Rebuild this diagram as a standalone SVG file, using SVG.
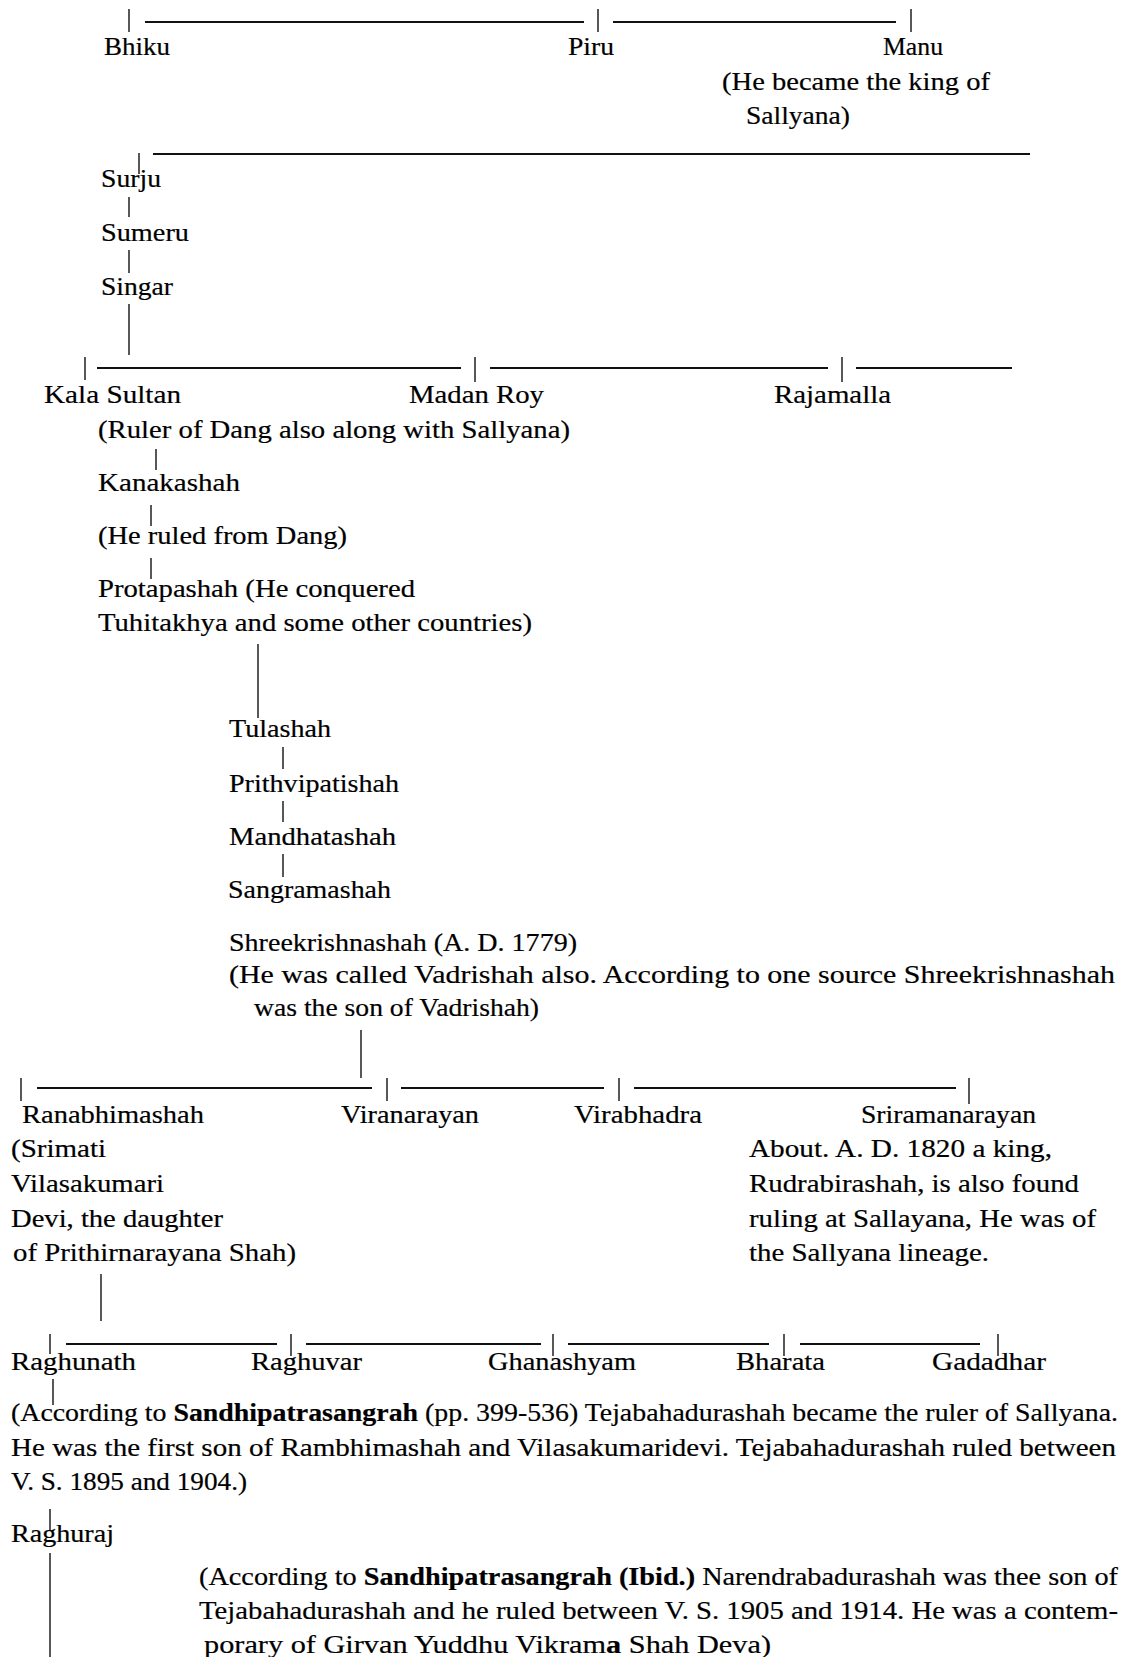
<svg xmlns="http://www.w3.org/2000/svg" width="1122" height="1657" viewBox="0 0 1122 1657">
<style>
text{font-family:"Liberation Serif","Times New Roman",serif;font-size:26px;fill:#000;stroke:#000;stroke-width:0.2}
.c line{stroke:#111;stroke-width:1.4}
.c .h{stroke-width:2}
.b{font-weight:bold}
</style>
<rect width="1122" height="1657" fill="#fff"/>
<g class="c" id="connectors">
<line x1="129" y1="9" x2="129" y2="32"/><line class="h" x1="145" y1="22" x2="584" y2="22"/><line x1="598" y1="9" x2="598" y2="32"/><line class="h" x1="613" y1="22" x2="896" y2="22"/><line x1="911" y1="9" x2="911" y2="32"/>
<line x1="139" y1="153" x2="139" y2="174"/><line class="h" x1="153" y1="154" x2="1030" y2="154"/>
<line x1="129" y1="197" x2="129" y2="217"/><line x1="129" y1="250" x2="129" y2="273"/><line x1="129" y1="304" x2="129" y2="355"/>
<line x1="85" y1="357" x2="85" y2="380"/><line class="h" x1="97" y1="368" x2="461" y2="368"/><line x1="475" y1="357" x2="475" y2="382"/><line class="h" x1="490" y1="368" x2="828" y2="368"/><line x1="842" y1="357" x2="842" y2="382"/><line class="h" x1="856" y1="368" x2="1012" y2="368"/>
<line x1="156" y1="449" x2="156" y2="470"/><line x1="151" y1="505" x2="151" y2="526"/><line x1="151" y1="558" x2="151" y2="579"/>
<line x1="258" y1="644" x2="258" y2="718"/><line x1="283" y1="747" x2="283" y2="769"/><line x1="283" y1="801" x2="283" y2="822"/><line x1="283" y1="854" x2="283" y2="877"/>
<line x1="361" y1="1030" x2="361" y2="1078"/>
<line x1="21" y1="1078" x2="21" y2="1101"/><line class="h" x1="37" y1="1088" x2="372" y2="1088"/><line x1="387" y1="1078" x2="387" y2="1101"/><line class="h" x1="401" y1="1088" x2="604" y2="1088"/><line x1="619" y1="1078" x2="619" y2="1101"/><line class="h" x1="634" y1="1088" x2="956" y2="1088"/><line x1="969" y1="1078" x2="969" y2="1104"/>
<line x1="101" y1="1274" x2="101" y2="1321"/>
<line x1="50" y1="1334" x2="50" y2="1354"/><line class="h" x1="66" y1="1344" x2="277" y2="1344"/><line x1="291" y1="1334" x2="291" y2="1356"/><line class="h" x1="306" y1="1344" x2="541" y2="1344"/><line x1="553" y1="1334" x2="553" y2="1356"/><line class="h" x1="568" y1="1344" x2="769" y2="1344"/><line x1="784" y1="1334" x2="784" y2="1356"/><line class="h" x1="800" y1="1344" x2="980" y2="1344"/><line x1="998" y1="1334" x2="998" y2="1356"/>
<line x1="53" y1="1379" x2="53" y2="1405"/><line x1="50" y1="1509" x2="50" y2="1530"/><line x1="50" y1="1553" x2="50" y2="1657"/>
</g>
<g id="bhiku"><text x="104" y="55" textLength="66" lengthAdjust="spacingAndGlyphs">Bhiku</text></g>
<g id="piru"><text x="568" y="55" textLength="46" lengthAdjust="spacingAndGlyphs">Piru</text></g>
<g id="manu"><text x="883" y="55" textLength="60" lengthAdjust="spacingAndGlyphs">Manu</text>
<text x="722" y="90" textLength="268" lengthAdjust="spacingAndGlyphs">(He became the king of</text>
<text x="746" y="124" textLength="104" lengthAdjust="spacingAndGlyphs">Sallyana)</text></g>
<g id="surju"><text x="101" y="187" textLength="60" lengthAdjust="spacingAndGlyphs">Surju</text></g>
<g id="sumeru"><text x="101" y="241" textLength="88" lengthAdjust="spacingAndGlyphs">Sumeru</text></g>
<g id="singar"><text x="101" y="295" textLength="72" lengthAdjust="spacingAndGlyphs">Singar</text></g>
<g id="kala-sultan"><text x="44" y="403" textLength="137" lengthAdjust="spacingAndGlyphs">Kala Sultan</text>
<text x="98" y="438" textLength="472" lengthAdjust="spacingAndGlyphs">(Ruler of Dang also along with Sallyana)</text></g>
<g id="madan-roy"><text x="409" y="403" textLength="135" lengthAdjust="spacingAndGlyphs">Madan Roy</text></g>
<g id="rajamalla"><text x="774" y="403" textLength="117" lengthAdjust="spacingAndGlyphs">Rajamalla</text></g>
<g id="kanakashah"><text x="98" y="491" textLength="142" lengthAdjust="spacingAndGlyphs">Kanakashah</text></g>
<g id="ruled-dang"><text x="98" y="544" textLength="249" lengthAdjust="spacingAndGlyphs">(He ruled from Dang)</text></g>
<g id="protapashah"><text x="98" y="597" textLength="317" lengthAdjust="spacingAndGlyphs">Protapashah (He conquered</text>
<text x="98" y="631" textLength="434" lengthAdjust="spacingAndGlyphs">Tuhitakhya and some other countries)</text></g>
<g id="tulashah"><text x="229" y="737" textLength="102" lengthAdjust="spacingAndGlyphs">Tulashah</text></g>
<g id="prithvipatishah"><text x="229" y="792" textLength="170" lengthAdjust="spacingAndGlyphs">Prithvipatishah</text></g>
<g id="mandhatashah"><text x="229" y="845" textLength="167" lengthAdjust="spacingAndGlyphs">Mandhatashah</text></g>
<g id="sangramashah"><text x="228" y="898" textLength="163" lengthAdjust="spacingAndGlyphs">Sangramashah</text></g>
<g id="shreekrishnashah"><text x="229" y="951" textLength="348" lengthAdjust="spacingAndGlyphs">Shreekrishnashah (A. D. 1779)</text>
<text x="229" y="983" textLength="886" lengthAdjust="spacingAndGlyphs">(He was  called  Vadrishah  also.  According to one  source  Shreekrishnashah</text>
<text x="254" y="1016" textLength="285" lengthAdjust="spacingAndGlyphs">was the son of Vadrishah)</text></g>
<g id="ranabhimashah"><text x="22" y="1123" textLength="182" lengthAdjust="spacingAndGlyphs">Ranabhimashah</text>
<text x="11" y="1157" textLength="95" lengthAdjust="spacingAndGlyphs">(Srimati</text>
<text x="11" y="1192" textLength="153" lengthAdjust="spacingAndGlyphs">Vilasakumari</text>
<text x="11" y="1227" textLength="212" lengthAdjust="spacingAndGlyphs">Devi, the daughter</text>
<text x="13" y="1261" textLength="283" lengthAdjust="spacingAndGlyphs">of Prithirnarayana Shah)</text></g>
<g id="viranarayan"><text x="341" y="1123" textLength="138" lengthAdjust="spacingAndGlyphs">Viranarayan</text></g>
<g id="virabhadra"><text x="574" y="1123" textLength="128" lengthAdjust="spacingAndGlyphs">Virabhadra</text></g>
<g id="sriramanarayan"><text x="861" y="1123" textLength="175" lengthAdjust="spacingAndGlyphs">Sriramanarayan</text>
<text x="749" y="1157" textLength="303" lengthAdjust="spacingAndGlyphs">About. A. D. 1820 a king,</text>
<text x="749" y="1192" textLength="330" lengthAdjust="spacingAndGlyphs">Rudrabirashah, is also found</text>
<text x="749" y="1227" textLength="347" lengthAdjust="spacingAndGlyphs">ruling at Sallayana, He was of</text>
<text x="749" y="1261" textLength="240" lengthAdjust="spacingAndGlyphs">the Sallyana lineage.</text></g>
<g id="raghunath"><text x="11" y="1370" textLength="125" lengthAdjust="spacingAndGlyphs">Raghunath</text>
<text x="11" y="1421" textLength="1107" lengthAdjust="spacingAndGlyphs">(According to <tspan class="b">Sandhipatrasangrah</tspan>  (pp. 399-536) Tejabahadurashah became the ruler of  Sallyana.</text>
<text x="11" y="1456" textLength="1105" lengthAdjust="spacingAndGlyphs">He was the first son of Rambhimashah and Vilasakumaridevi.  Tejabahadurashah  ruled between</text>
<text x="11" y="1490" textLength="236" lengthAdjust="spacingAndGlyphs">V. S. 1895 and 1904.)</text></g>
<g id="raghuvar"><text x="251" y="1370" textLength="111" lengthAdjust="spacingAndGlyphs">Raghuvar</text></g>
<g id="ghanashyam"><text x="488" y="1370" textLength="148" lengthAdjust="spacingAndGlyphs">Ghanashyam</text></g>
<g id="bharata"><text x="736" y="1370" textLength="89" lengthAdjust="spacingAndGlyphs">Bharata</text></g>
<g id="gadadhar"><text x="932" y="1370" textLength="114" lengthAdjust="spacingAndGlyphs">Gadadhar</text></g>
<g id="raghuraj"><text x="11" y="1542" textLength="103" lengthAdjust="spacingAndGlyphs">Raghuraj</text>
<text x="199" y="1585" textLength="919" lengthAdjust="spacingAndGlyphs">(According to <tspan class="b">Sandhipatrasangrah (Ibid.)</tspan> Narendrabadurashah  was  thee  son of</text>
<text x="199" y="1619" textLength="919" lengthAdjust="spacingAndGlyphs">Tejabahadurashah  and he ruled between V. S. 1905 and 1914. He was a  contem-</text>
<text x="204" y="1653" textLength="567" lengthAdjust="spacingAndGlyphs">porary of Girvan  Yuddhu  Vikram<tspan class="b">a</tspan> Shah  Deva)</text></g>
</svg>
